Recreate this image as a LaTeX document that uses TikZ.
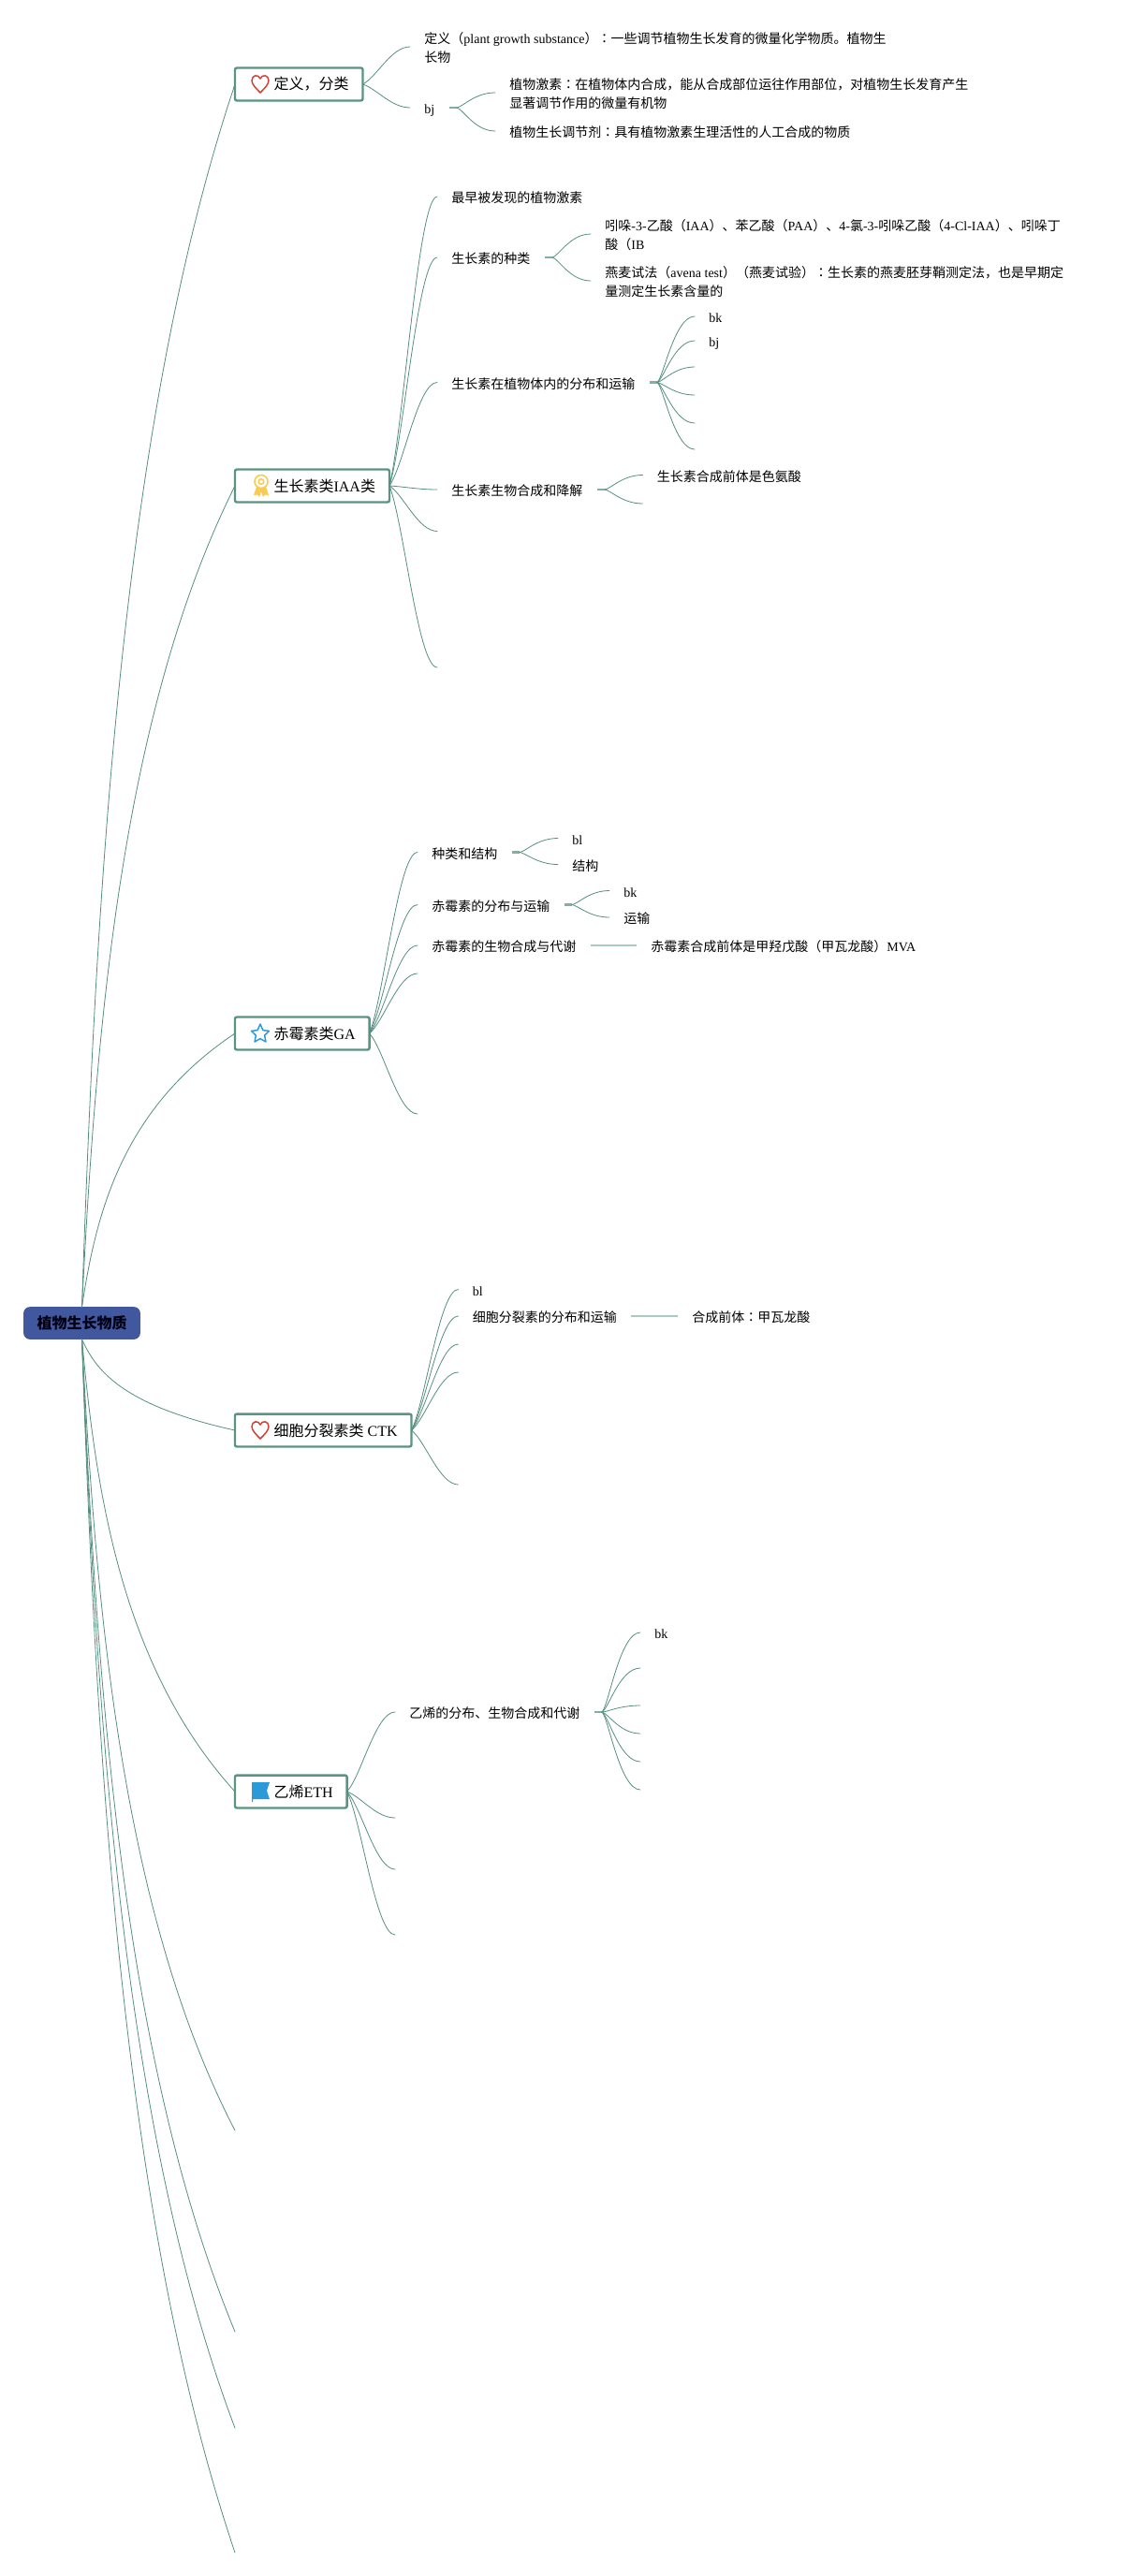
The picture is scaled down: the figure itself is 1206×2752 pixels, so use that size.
\documentclass[tikz,border=0pt]{standalone}
\usepackage{fontspec}
\setmainfont{Liberation Serif}
\newfontfamily\cjkf{Noto Sans CJK SC}
\newfontfamily\cjkt{Noto Sans CJK TC}
\newcommand\zh[1]{{\cjkf #1}}
\newcommand\cln{{\cjkt ：}}
\usetikzlibrary{calc}
\definecolor{edgec}{HTML}{558F80}
\definecolor{softc}{HTML}{A8CBC1}
\definecolor{stubc}{HTML}{7FB0A3}
\definecolor{boxc}{HTML}{5A9482}
\definecolor{rootc}{HTML}{41589E}
\definecolor{heartc}{HTML}{D23F31}
\definecolor{goldc}{HTML}{F8CB55}
\definecolor{bluec}{HTML}{2A9AD8}
\tikzset{
  edgeline/.style={draw=edgec,line width=0.6pt,line cap=round},
  softline/.style={draw=softc,line width=1.7pt},
  stubline/.style={draw=stubc,line width=1.6pt},
  lab/.style={inner xsep=11.6pt,inner ysep=0pt,outer sep=0pt,anchor=west,align=left,
    text height=10pt,text depth=0pt,
    font=\fontsize{10.5pt}{15.4pt}\selectfont,text=black},
  labtwo/.style={lab,text height=25.4pt},
  topic/.style={draw=boxc,line width=1.8pt,rounded corners=1.5pt,fill=white,anchor=west,
    minimum height=26.2pt,inner xsep=11.2pt,inner ysep=0pt,outer sep=0pt,
    font=\fontsize{12pt}{14pt}\selectfont,text=black},
  rootbox/.style={fill=rootc,rounded corners=5pt,
    minimum width=93.5pt,minimum height=26pt,inner sep=0pt,outer sep=0pt,
    font=\fontsize{12pt}{14pt}\selectfont\bfseries,text={black!92!blue}},
}
% trunk curve: root to a topic
\newcommand\trunk[2]{\draw[edgeline] let \p1=(#1),\p2=(#2),\n1={\x2-\x1},\n2={\y2-\y1} in
  (\p1) .. controls ({\x1+.09*\n1},{\y1+.33*\n2}) and ({\x1+.25*\n1},{\y1+.72*\n2}) .. (\p2);}
% branch curve from a topic box: horizontal arrival
\newcommand\branch[2]{\draw[edgeline] let \p1=(#1),\p2=(#2),\n1={\x2-\x1},\n2={\y2-\y1} in
  (\p1) .. controls ({\x1+.3*\n1},{\y1+.2*\n2}) and ({\x1+.6*\n1},\y2) .. (\p2);}
% branch from a text node: starts at the end of a short stub, S-shaped
\newcommand\twig[2]{\draw[edgeline] let \p1=(#1),\p2=(#2),\n1={\x2-\x1},\n2={\y2-\y1} in
  ({\x1+6pt},\y1) .. controls ({\x1+.3*\n1},{\y1+.05*\n2}) and ({\x1+.55*\n1},\y2) .. (\p2);}
\newcommand\stub[1]{\draw[stubline] (#1) -- ++(8,0);}
\begin{document}
\begin{tikzpicture}[x=0.75pt,y=-0.75pt]
\useasboundingbox (0,0) rectangle (1206,2752);
\fill[white] (0,0) rectangle (1206,2752);

% free ends of the root's empty branches
\coordinate (r6) at (251,2276);
\coordinate (r7) at (251,2491);
\coordinate (r8) at (251,2594);
\coordinate (r9) at (251,2727);

% root
\node[rootbox] (root) at (87.5,1413.5) {\zh{植物生长物质}};

% topics
\node[topic] (t1) at (251,90)   {\hspace*{20pt}\zh{定义，分类}};
\node[topic] (t2) at (251,519)  {\hspace*{20pt}\zh{生长素类}IAA\zh{类}};
\node[topic] (t3) at (251,1104) {\hspace*{20pt}\zh{赤霉素类}GA};
\node[topic] (t4) at (251,1528) {\hspace*{20pt}\zh{细胞分裂素类} CTK};
\node[topic] (t5) at (251,1914) {\hspace*{20pt}\zh{乙烯}ETH};

\trunk{root.north}{t1.west}
\trunk{root.north}{t2.west}
\trunk{root.north}{t3.west}
\trunk{root.south}{t4.west}
\trunk{root.south}{t5.west}
\trunk{root.south}{r6}
\trunk{root.south}{r7}
\trunk{root.south}{r8}
\trunk{root.south}{r9}

% icons
\draw[heartc,line width=1.1pt,line join=round] (278,99)
  .. controls (273,94) and (269,90) .. (269,86)
  .. controls (269,80) and (276,79) .. (278,84)
  .. controls (280,79) and (287,80) .. (287,86)
  .. controls (287,90) and (283,94) .. (278,99) -- cycle;
\draw[heartc,line width=1.1pt,line join=round] (278,1537)
  .. controls (273,1532) and (269,1528) .. (269,1524)
  .. controls (269,1518) and (276,1517) .. (278,1522)
  .. controls (280,1517) and (287,1518) .. (287,1524)
  .. controls (287,1528) and (283,1532) .. (278,1537) -- cycle;
% medal
\fill[goldc] (274,520) -- (271,529) -- (275,528.5) -- (277,531) -- (279,525) -- (281,531) -- (283,528.5) -- (287,529) -- (284,520) -- cycle;
\draw[goldc,line width=1.2pt,fill=white] (279,514.5) circle (7);
\draw[goldc,line width=1.1pt] (279,514.5) circle (2.8);
% star
\draw[bluec,line width=1.1pt,line join=round,fill=white]
  (278,1094) -- (280.9,1100.6) -- (287.5,1101.4) -- (282.6,1106.1) -- (284,1113) -- (278,1109.6)
  -- (272,1113) -- (273.4,1106.1) -- (268.5,1101.4) -- (275.1,1100.6) -- cycle;
% flag
\fill[bluec] (269,1904) -- (288,1904) -- (285,1913) -- (288,1922) -- (270,1922) -- (270,1925) -- (269,1925) -- cycle;

% 1
\node[labtwo] (a1) at (438,50) {\zh{定义（}plant growth substance\zh{）}\cln\zh{一些调节植物生长发育的微量化学物质。植物生}\\\zh{长物}};
\node[lab] (a2) at (438,115) {bj};
\node[labtwo] (a21) at (529,99) {\zh{植物激素}\cln\zh{在植物体内合成，能从合成部位运往作用部位，对植物生长发育产生}\\\zh{显著调节作用的微量有机物}};
\node[lab] (a22) at (529,140) {\zh{植物生长调节剂}\cln\zh{具有植物激素生理活性的人工合成的物质}};
\branch{t1.east}{a1.west}
\branch{t1.east}{a2.west}
\stub{a2.east}
\twig{a2.east}{a21.west}
\twig{a2.east}{a22.west}

% 2
\node[lab] (b1) at (467,210) {\zh{最早被发现的植物激素}};
\node[lab] (b2) at (467,275) {\zh{生长素的种类}};
\node[lab] (b3) at (467,408.5) {\zh{生长素在植物体内的分布和运输}};
\node[lab] (b4) at (467,523) {\zh{生长素生物合成和降解}};
\coordinate (b5) at (467,567.5);
\coordinate (b6) at (467,713);
\branch{t2.east}{b1.west}
\branch{t2.east}{b2.west}
\branch{t2.east}{b3.west}
\branch{t2.east}{b4.west}
\branch{t2.east}{b5}
\branch{t2.east}{b6}
\node[labtwo] (b21) at (631,250) {\zh{吲哚}-3-\zh{乙酸（}IAA\zh{）、苯乙酸（}PAA\zh{）、}4-\zh{氯}-3-\zh{吲哚乙酸（}4-Cl-IAA\zh{）、吲哚丁}\\\zh{酸（}IB};
\node[labtwo] (b22) at (631,300) {\zh{燕麦试法（}avena test\zh{）（燕麦试验）}\cln\zh{生长素的燕麦胚芽鞘测定法，也是早期定}\\\zh{量测定生长素含量的}};
\stub{b2.east}
\twig{b2.east}{b21.west}
\twig{b2.east}{b22.west}
\node[lab] (b31) at (742,338) {bk};
\node[lab] (b32) at (742,364) {bj};
\coordinate (b33) at (742,392);
\coordinate (b34) at (742,422);
\coordinate (b35) at (742,452);
\coordinate (b36) at (742,480);
\stub{b3.east}
\twig{b3.east}{b31.west}
\twig{b3.east}{b32.west}
\twig{b3.east}{b33}
\twig{b3.east}{b34}
\twig{b3.east}{b35}
\twig{b3.east}{b36}
\node[lab] (b41) at (686.5,507.5) {\zh{生长素合成前体是色氨酸}};
\coordinate (b42) at (686.5,538);
\stub{b4.east}
\twig{b4.east}{b41.west}
\twig{b4.east}{b42}

% 3
\node[lab] (c1) at (446,910.5) {\zh{种类和结构}};
\node[lab] (c2) at (446,966.5) {\zh{赤霉素的分布与运输}};
\node[lab] (c3) at (446,1010) {\zh{赤霉素的生物合成与代谢}};
\coordinate (c4) at (446,1040);
\coordinate (c5) at (446,1190);
\branch{t3.east}{c1.west}
\branch{t3.east}{c2.west}
\branch{t3.east}{c3.west}
\branch{t3.east}{c4}
\branch{t3.east}{c5}
\node[lab] (c11) at (596,895.5) {bl};
\node[lab] (c12) at (596,923.5) {\zh{结构}};
\stub{c1.east}
\twig{c1.east}{c11.west}
\twig{c1.east}{c12.west}
\node[lab] (c21) at (651,951.5) {bk};
\node[lab] (c22) at (651,980) {\zh{运输}};
\stub{c2.east}
\twig{c2.east}{c21.west}
\twig{c2.east}{c22.west}
\node[lab] (c31) at (680,1010) {\zh{赤霉素合成前体是甲羟戊酸（甲瓦龙酸）}MVA};
\draw[softline] (c3.east) -- (c31.west);

% 4
\node[lab] (d1) at (489.5,1377.5) {bl};
\node[lab] (d2) at (489.5,1406) {\zh{细胞分裂素的分布和运输}};
\coordinate (d3) at (489.5,1436);
\coordinate (d4) at (489.5,1466);
\coordinate (d5) at (489.5,1586);
\branch{t4.east}{d1.west}
\branch{t4.east}{d2.west}
\branch{t4.east}{d3}
\branch{t4.east}{d4}
\branch{t4.east}{d5}
\node[lab] (d21) at (724,1406) {\zh{合成前体}\cln\zh{甲瓦龙酸}};
\draw[softline] (d2.east) -- (d21.west);

% 5
\node[lab] (e1) at (422,1829) {\zh{乙烯的分布、生物合成和代谢}};
\coordinate (e2) at (422,1942);
\coordinate (e3) at (422,1997);
\coordinate (e4) at (422,2067);
\branch{t5.east}{e1.west}
\branch{t5.east}{e2}
\branch{t5.east}{e3}
\branch{t5.east}{e4}
\node[lab] (e11) at (684,1744) {bk};
\coordinate (e12) at (684,1782);
\coordinate (e13) at (684,1822);
\coordinate (e14) at (684,1852);
\coordinate (e15) at (684,1882);
\coordinate (e16) at (684,1912);
\stub{e1.east}
\twig{e1.east}{e11.west}
\twig{e1.east}{e12}
\twig{e1.east}{e13}
\twig{e1.east}{e14}
\twig{e1.east}{e15}
\twig{e1.east}{e16}
\end{tikzpicture}
\end{document}
